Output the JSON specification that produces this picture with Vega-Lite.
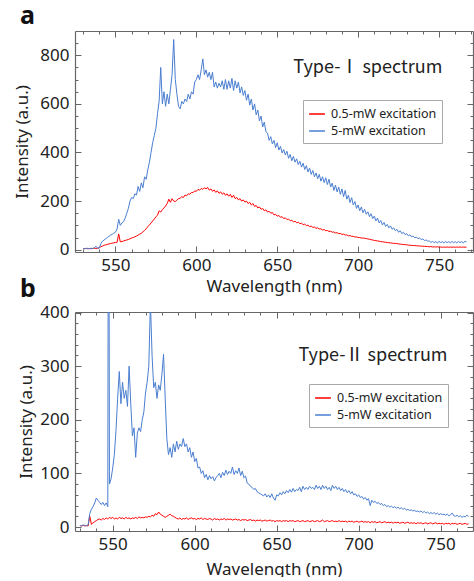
{
"$schema":"https://vega.github.io/schema/vega-lite/v6.json",
"padding":{"left":13,"top":3,"right":0,"bottom":0},
"spacing":-18,
"resolve":{"scale":{"color":"independent"},"legend":{"color":"independent"}},
"config":{"font":"Noto Sans","view":{"stroke":null},"axis":{"grid":false,"domainColor":"#666","domainWidth":1.2,"tickColor":"#666","tickWidth":1,"labelColor":"#222","titleColor":"#222","labelFont":"Noto Sans","titleFont":"Noto Sans","labelFontSize":17,"titleFontSize":17,"titleFontWeight":"normal"}},
"datasets":{
"a":[{"w":530,"lo":5,"hi":5},{"w":531,"lo":4,"hi":4},{"w":532,"lo":5,"hi":6},{"w":533,"lo":4,"hi":5},{"w":534,"lo":5,"hi":4},{"w":535,"lo":4,"hi":6},{"w":536,"lo":5,"hi":5},{"w":537,"lo":6,"hi":8},{"w":538,"lo":5,"hi":14},{"w":539,"lo":6,"hi":6},{"w":540,"lo":8,"hi":7},{"w":541,"lo":12,"hi":25},{"w":542,"lo":15,"hi":35},{"w":543,"lo":18,"hi":40},{"w":544,"lo":20,"hi":45},{"w":545,"lo":22,"hi":50},{"w":546,"lo":24,"hi":55},{"w":547,"lo":25,"hi":60},{"w":548,"lo":27,"hi":63},{"w":549,"lo":28,"hi":68},{"w":550,"lo":30,"hi":72},{"w":551,"lo":30,"hi":85},{"w":552,"lo":65,"hi":125},{"w":553,"lo":32,"hi":100},{"w":554,"lo":34,"hi":110},{"w":555,"lo":36,"hi":115},{"w":556,"lo":38,"hi":130},{"w":557,"lo":40,"hi":150},{"w":558,"lo":42,"hi":170},{"w":559,"lo":45,"hi":200},{"w":560,"lo":48,"hi":215},{"w":561,"lo":50,"hi":210},{"w":562,"lo":53,"hi":230},{"w":563,"lo":56,"hi":225},{"w":564,"lo":60,"hi":260},{"w":565,"lo":64,"hi":240},{"w":566,"lo":68,"hi":275},{"w":567,"lo":73,"hi":255},{"w":568,"lo":80,"hi":300},{"w":569,"lo":86,"hi":290},{"w":570,"lo":95,"hi":330},{"w":571,"lo":102,"hi":360},{"w":572,"lo":110,"hi":400},{"w":573,"lo":118,"hi":440},{"w":574,"lo":126,"hi":470},{"w":575,"lo":135,"hi":500},{"w":576,"lo":142,"hi":560},{"w":577,"lo":160,"hi":610},{"w":578,"lo":155,"hi":750},{"w":579,"lo":165,"hi":600},{"w":580,"lo":172,"hi":650},{"w":581,"lo":180,"hi":590},{"w":582,"lo":190,"hi":640},{"w":583,"lo":208,"hi":600},{"w":584,"lo":195,"hi":660},{"w":585,"lo":210,"hi":720},{"w":586,"lo":200,"hi":865},{"w":587,"lo":198,"hi":700},{"w":588,"lo":205,"hi":640},{"w":589,"lo":210,"hi":590},{"w":590,"lo":212,"hi":580},{"w":591,"lo":218,"hi":610},{"w":592,"lo":215,"hi":600},{"w":593,"lo":225,"hi":620},{"w":594,"lo":222,"hi":610},{"w":595,"lo":230,"hi":640},{"w":596,"lo":228,"hi":620},{"w":597,"lo":236,"hi":650},{"w":598,"lo":235,"hi":640},{"w":599,"lo":242,"hi":690},{"w":600,"lo":240,"hi":700},{"w":601,"lo":248,"hi":720},{"w":602,"lo":245,"hi":700},{"w":603,"lo":252,"hi":740},{"w":604,"lo":248,"hi":785},{"w":605,"lo":255,"hi":720},{"w":606,"lo":250,"hi":740},{"w":607,"lo":256,"hi":710},{"w":608,"lo":245,"hi":730},{"w":609,"lo":250,"hi":700},{"w":610,"lo":240,"hi":730},{"w":611,"lo":246,"hi":670},{"w":612,"lo":236,"hi":690},{"w":613,"lo":242,"hi":665},{"w":614,"lo":232,"hi":685},{"w":615,"lo":238,"hi":670},{"w":616,"lo":228,"hi":695},{"w":617,"lo":234,"hi":660},{"w":618,"lo":224,"hi":700},{"w":619,"lo":230,"hi":660},{"w":620,"lo":220,"hi":695},{"w":621,"lo":228,"hi":665},{"w":622,"lo":215,"hi":705},{"w":623,"lo":224,"hi":655},{"w":624,"lo":210,"hi":695},{"w":625,"lo":215,"hi":665},{"w":626,"lo":205,"hi":690},{"w":627,"lo":210,"hi":645},{"w":628,"lo":200,"hi":670},{"w":629,"lo":205,"hi":635},{"w":630,"lo":196,"hi":655},{"w":631,"lo":200,"hi":615},{"w":632,"lo":190,"hi":640},{"w":633,"lo":195,"hi":595},{"w":634,"lo":184,"hi":620},{"w":635,"lo":190,"hi":575},{"w":636,"lo":178,"hi":600},{"w":637,"lo":182,"hi":555},{"w":638,"lo":172,"hi":575},{"w":639,"lo":176,"hi":530},{"w":640,"lo":166,"hi":550},{"w":641,"lo":170,"hi":505},{"w":642,"lo":160,"hi":525},{"w":643,"lo":164,"hi":485},{"w":644,"lo":155,"hi":480},{"w":645,"lo":158,"hi":450},{"w":646,"lo":150,"hi":465},{"w":647,"lo":153,"hi":435},{"w":648,"lo":143,"hi":450},{"w":649,"lo":146,"hi":420},{"w":650,"lo":138,"hi":440},{"w":651,"lo":141,"hi":410},{"w":652,"lo":133,"hi":425},{"w":653,"lo":136,"hi":398},{"w":654,"lo":128,"hi":412},{"w":655,"lo":131,"hi":390},{"w":656,"lo":124,"hi":405},{"w":657,"lo":126,"hi":376},{"w":658,"lo":119,"hi":392},{"w":659,"lo":121,"hi":366},{"w":660,"lo":115,"hi":384},{"w":661,"lo":117,"hi":360},{"w":662,"lo":111,"hi":374},{"w":663,"lo":113,"hi":350},{"w":664,"lo":107,"hi":364},{"w":665,"lo":109,"hi":340},{"w":666,"lo":103,"hi":356},{"w":667,"lo":105,"hi":330},{"w":668,"lo":99,"hi":346},{"w":669,"lo":101,"hi":320},{"w":670,"lo":95,"hi":336},{"w":671,"lo":97,"hi":310},{"w":672,"lo":92,"hi":326},{"w":673,"lo":93,"hi":300},{"w":674,"lo":88,"hi":316},{"w":675,"lo":90,"hi":292},{"w":676,"lo":85,"hi":310},{"w":677,"lo":86,"hi":282},{"w":678,"lo":81,"hi":300},{"w":679,"lo":83,"hi":276},{"w":680,"lo":78,"hi":296},{"w":681,"lo":79,"hi":268},{"w":682,"lo":75,"hi":290},{"w":683,"lo":76,"hi":258},{"w":684,"lo":72,"hi":274},{"w":685,"lo":73,"hi":244},{"w":686,"lo":69,"hi":266},{"w":687,"lo":70,"hi":238},{"w":688,"lo":66,"hi":258},{"w":689,"lo":67,"hi":228},{"w":690,"lo":63,"hi":250},{"w":691,"lo":64,"hi":218},{"w":692,"lo":60,"hi":244},{"w":693,"lo":61,"hi":208},{"w":694,"lo":57,"hi":224},{"w":695,"lo":58,"hi":194},{"w":696,"lo":55,"hi":214},{"w":697,"lo":55,"hi":184},{"w":698,"lo":52,"hi":198},{"w":699,"lo":53,"hi":170},{"w":700,"lo":50,"hi":184},{"w":701,"lo":50,"hi":160},{"w":702,"lo":48,"hi":176},{"w":703,"lo":48,"hi":152},{"w":704,"lo":47,"hi":166},{"w":705,"lo":46,"hi":146},{"w":706,"lo":44,"hi":156},{"w":707,"lo":43,"hi":136},{"w":708,"lo":41,"hi":148},{"w":709,"lo":40,"hi":128},{"w":710,"lo":38,"hi":138},{"w":711,"lo":37,"hi":118},{"w":712,"lo":36,"hi":130},{"w":713,"lo":35,"hi":110},{"w":714,"lo":33,"hi":120},{"w":715,"lo":33,"hi":102},{"w":716,"lo":31,"hi":112},{"w":717,"lo":31,"hi":96},{"w":718,"lo":29,"hi":104},{"w":719,"lo":29,"hi":90},{"w":720,"lo":28,"hi":98},{"w":721,"lo":27,"hi":84},{"w":722,"lo":26,"hi":90},{"w":723,"lo":26,"hi":78},{"w":724,"lo":25,"hi":84},{"w":725,"lo":24,"hi":72},{"w":726,"lo":23,"hi":78},{"w":727,"lo":22,"hi":66},{"w":728,"lo":21,"hi":72},{"w":729,"lo":21,"hi":62},{"w":730,"lo":20,"hi":66},{"w":731,"lo":19,"hi":57},{"w":732,"lo":18,"hi":61},{"w":733,"lo":18,"hi":53},{"w":734,"lo":17,"hi":56},{"w":735,"lo":17,"hi":49},{"w":736,"lo":16,"hi":52},{"w":737,"lo":16,"hi":45},{"w":738,"lo":15,"hi":48},{"w":739,"lo":15,"hi":42},{"w":740,"lo":14,"hi":44},{"w":741,"lo":14,"hi":38},{"w":742,"lo":13,"hi":40},{"w":743,"lo":13,"hi":35},{"w":744,"lo":12,"hi":36},{"w":745,"lo":13,"hi":30},{"w":746,"lo":11,"hi":34},{"w":747,"lo":12,"hi":29},{"w":748,"lo":11,"hi":33},{"w":749,"lo":12,"hi":28},{"w":750,"lo":10,"hi":34},{"w":751,"lo":11,"hi":29},{"w":752,"lo":10,"hi":33},{"w":753,"lo":11,"hi":28},{"w":754,"lo":10,"hi":34},{"w":755,"lo":11,"hi":29},{"w":756,"lo":10,"hi":33},{"w":757,"lo":11,"hi":28},{"w":758,"lo":10,"hi":34},{"w":759,"lo":11,"hi":29},{"w":760,"lo":10,"hi":33},{"w":761,"lo":11,"hi":28},{"w":762,"lo":10,"hi":34},{"w":763,"lo":11,"hi":29},{"w":764,"lo":10,"hi":33},{"w":765,"lo":11,"hi":28},{"w":766,"lo":10,"hi":34},{"w":767,"lo":11,"hi":32}],
"b":[{"w":530,"lo":3,"hi":3},{"w":531,"lo":2,"hi":2},{"w":532,"lo":3,"hi":4},{"w":533,"lo":2,"hi":3},{"w":534,"lo":3,"hi":2},{"w":535,"lo":2,"hi":4},{"w":536,"lo":20,"hi":25},{"w":537,"lo":5,"hi":33},{"w":538,"lo":8,"hi":38},{"w":539,"lo":10,"hi":45},{"w":540,"lo":12,"hi":54},{"w":541,"lo":14,"hi":50},{"w":542,"lo":15,"hi":46},{"w":543,"lo":13,"hi":42},{"w":544,"lo":16,"hi":46},{"w":545,"lo":14,"hi":40},{"w":546,"lo":17,"hi":45},{"w":547,"lo":15,"hi":38},{"w":547.5,"lo":16,"hi":1000},{"w":548,"lo":18,"hi":80},{"w":549,"lo":16,"hi":90},{"w":550,"lo":18,"hi":110},{"w":551,"lo":15,"hi":135},{"w":552,"lo":17,"hi":180},{"w":553,"lo":15,"hi":240},{"w":554,"lo":18,"hi":290},{"w":555,"lo":16,"hi":230},{"w":556,"lo":17,"hi":270},{"w":557,"lo":15,"hi":240},{"w":558,"lo":18,"hi":255},{"w":559,"lo":16,"hi":225},{"w":560,"lo":17,"hi":300},{"w":561,"lo":15,"hi":230},{"w":562,"lo":17,"hi":170},{"w":563,"lo":16,"hi":185},{"w":564,"lo":18,"hi":130},{"w":565,"lo":16,"hi":175},{"w":566,"lo":19,"hi":185},{"w":567,"lo":17,"hi":178},{"w":568,"lo":18,"hi":200},{"w":569,"lo":17,"hi":215},{"w":570,"lo":19,"hi":250},{"w":571,"lo":18,"hi":270},{"w":572,"lo":20,"hi":300},{"w":573,"lo":19,"hi":420},{"w":574,"lo":22,"hi":320},{"w":575,"lo":20,"hi":260},{"w":576,"lo":25,"hi":270},{"w":577,"lo":23,"hi":240},{"w":578,"lo":28,"hi":265},{"w":579,"lo":24,"hi":255},{"w":580,"lo":22,"hi":285},{"w":581,"lo":20,"hi":322},{"w":582,"lo":18,"hi":240},{"w":583,"lo":20,"hi":165},{"w":584,"lo":22,"hi":135},{"w":585,"lo":24,"hi":148},{"w":586,"lo":21,"hi":130},{"w":587,"lo":20,"hi":155},{"w":588,"lo":18,"hi":140},{"w":589,"lo":16,"hi":160},{"w":590,"lo":15,"hi":145},{"w":591,"lo":17,"hi":155},{"w":592,"lo":14,"hi":150},{"w":593,"lo":16,"hi":165},{"w":594,"lo":15,"hi":150},{"w":595,"lo":17,"hi":155},{"w":596,"lo":14,"hi":140},{"w":597,"lo":16,"hi":148},{"w":598,"lo":17,"hi":130},{"w":599,"lo":15,"hi":140},{"w":600,"lo":16,"hi":122},{"w":601,"lo":14,"hi":128},{"w":602,"lo":16,"hi":110},{"w":603,"lo":15,"hi":112},{"w":604,"lo":17,"hi":100},{"w":605,"lo":14,"hi":105},{"w":606,"lo":16,"hi":92},{"w":607,"lo":15,"hi":98},{"w":608,"lo":14,"hi":88},{"w":609,"lo":16,"hi":96},{"w":610,"lo":15,"hi":90},{"w":611,"lo":13,"hi":94},{"w":612,"lo":16,"hi":86},{"w":613,"lo":14,"hi":92},{"w":614,"lo":15,"hi":96},{"w":615,"lo":13,"hi":100},{"w":616,"lo":15,"hi":92},{"w":617,"lo":14,"hi":102},{"w":618,"lo":16,"hi":96},{"w":619,"lo":13,"hi":106},{"w":620,"lo":15,"hi":98},{"w":621,"lo":14,"hi":104},{"w":622,"lo":15,"hi":100},{"w":623,"lo":13,"hi":112},{"w":624,"lo":14,"hi":98},{"w":625,"lo":15,"hi":105},{"w":626,"lo":13,"hi":100},{"w":627,"lo":14,"hi":110},{"w":628,"lo":12,"hi":96},{"w":629,"lo":14,"hi":104},{"w":630,"lo":13,"hi":92},{"w":631,"lo":14,"hi":95},{"w":632,"lo":12,"hi":82},{"w":633,"lo":13,"hi":80},{"w":634,"lo":14,"hi":76},{"w":635,"lo":12,"hi":74},{"w":636,"lo":13,"hi":70},{"w":637,"lo":11,"hi":72},{"w":638,"lo":13,"hi":66},{"w":639,"lo":12,"hi":64},{"w":640,"lo":13,"hi":62},{"w":641,"lo":11,"hi":60},{"w":642,"lo":12,"hi":58},{"w":643,"lo":13,"hi":62},{"w":644,"lo":11,"hi":56},{"w":645,"lo":12,"hi":60},{"w":646,"lo":13,"hi":55},{"w":647,"lo":11,"hi":62},{"w":648,"lo":12,"hi":54},{"w":649,"lo":10,"hi":50},{"w":650,"lo":12,"hi":60},{"w":651,"lo":11,"hi":58},{"w":652,"lo":12,"hi":64},{"w":653,"lo":10,"hi":60},{"w":654,"lo":12,"hi":66},{"w":655,"lo":11,"hi":62},{"w":656,"lo":12,"hi":68},{"w":657,"lo":10,"hi":64},{"w":658,"lo":12,"hi":70},{"w":659,"lo":11,"hi":65},{"w":660,"lo":12,"hi":72},{"w":661,"lo":10,"hi":66},{"w":662,"lo":11,"hi":70},{"w":663,"lo":12,"hi":68},{"w":664,"lo":10,"hi":74},{"w":665,"lo":11,"hi":66},{"w":666,"lo":12,"hi":76},{"w":667,"lo":10,"hi":70},{"w":668,"lo":11,"hi":74},{"w":669,"lo":12,"hi":70},{"w":670,"lo":10,"hi":76},{"w":671,"lo":11,"hi":72},{"w":672,"lo":12,"hi":74},{"w":673,"lo":10,"hi":70},{"w":674,"lo":11,"hi":78},{"w":675,"lo":12,"hi":72},{"w":676,"lo":10,"hi":76},{"w":677,"lo":11,"hi":70},{"w":678,"lo":13,"hi":78},{"w":679,"lo":10,"hi":72},{"w":680,"lo":11,"hi":76},{"w":681,"lo":12,"hi":70},{"w":682,"lo":10,"hi":74},{"w":683,"lo":11,"hi":68},{"w":684,"lo":12,"hi":78},{"w":685,"lo":10,"hi":72},{"w":686,"lo":11,"hi":76},{"w":687,"lo":10,"hi":70},{"w":688,"lo":12,"hi":74},{"w":689,"lo":10,"hi":68},{"w":690,"lo":11,"hi":72},{"w":691,"lo":10,"hi":66},{"w":692,"lo":11,"hi":70},{"w":693,"lo":9,"hi":64},{"w":694,"lo":11,"hi":68},{"w":695,"lo":10,"hi":62},{"w":696,"lo":11,"hi":66},{"w":697,"lo":9,"hi":60},{"w":698,"lo":10,"hi":62},{"w":699,"lo":11,"hi":57},{"w":700,"lo":9,"hi":60},{"w":701,"lo":10,"hi":55},{"w":702,"lo":11,"hi":57},{"w":703,"lo":9,"hi":52},{"w":704,"lo":10,"hi":55},{"w":705,"lo":9,"hi":50},{"w":706,"lo":10,"hi":53},{"w":707,"lo":8,"hi":40},{"w":708,"lo":10,"hi":50},{"w":709,"lo":9,"hi":46},{"w":710,"lo":10,"hi":48},{"w":711,"lo":8,"hi":44},{"w":712,"lo":9,"hi":46},{"w":713,"lo":10,"hi":42},{"w":714,"lo":8,"hi":44},{"w":715,"lo":9,"hi":40},{"w":716,"lo":10,"hi":42},{"w":717,"lo":8,"hi":38},{"w":718,"lo":9,"hi":40},{"w":719,"lo":8,"hi":37},{"w":720,"lo":9,"hi":39},{"w":721,"lo":7,"hi":36},{"w":722,"lo":9,"hi":38},{"w":723,"lo":8,"hi":35},{"w":724,"lo":9,"hi":37},{"w":725,"lo":7,"hi":34},{"w":726,"lo":8,"hi":36},{"w":727,"lo":9,"hi":33},{"w":728,"lo":7,"hi":35},{"w":729,"lo":8,"hi":32},{"w":730,"lo":9,"hi":33},{"w":731,"lo":7,"hi":31},{"w":732,"lo":8,"hi":32},{"w":733,"lo":7,"hi":30},{"w":734,"lo":8,"hi":31},{"w":735,"lo":6,"hi":29},{"w":736,"lo":8,"hi":30},{"w":737,"lo":7,"hi":28},{"w":738,"lo":8,"hi":30},{"w":739,"lo":6,"hi":27},{"w":740,"lo":7,"hi":29},{"w":741,"lo":8,"hi":26},{"w":742,"lo":6,"hi":28},{"w":743,"lo":7,"hi":25},{"w":744,"lo":8,"hi":27},{"w":745,"lo":6,"hi":25},{"w":746,"lo":7,"hi":27},{"w":747,"lo":8,"hi":24},{"w":748,"lo":6,"hi":26},{"w":749,"lo":7,"hi":23},{"w":750,"lo":6,"hi":25},{"w":751,"lo":7,"hi":23},{"w":752,"lo":5,"hi":24},{"w":753,"lo":7,"hi":22},{"w":754,"lo":6,"hi":24},{"w":755,"lo":7,"hi":21},{"w":756,"lo":5,"hi":23},{"w":757,"lo":7,"hi":26},{"w":758,"lo":6,"hi":21},{"w":759,"lo":7,"hi":20},{"w":760,"lo":5,"hi":22},{"w":761,"lo":6,"hi":19},{"w":762,"lo":7,"hi":21},{"w":763,"lo":5,"hi":18},{"w":764,"lo":6,"hi":20},{"w":765,"lo":7,"hi":19},{"w":766,"lo":5,"hi":22},{"w":767,"lo":6,"hi":20}]
},
"vconcat":[
{
"width":398,"height":221,
"title":{"text":"a","anchor":"start","frame":"group","dx":-55,"offset":2,"fontSize":25,"fontWeight":"bold","font":"Noto Sans","color":"#111"},
"layer":[
{"data":{"name":"a"},"transform":[{"fold":["lo","hi"],"as":["k","v"]}],
"mark":{"type":"line","strokeWidth":1,"clip":true},
"encoding":{
"x":{"field":"w","type":"quantitative","scale":{"domain":[525,771],"nice":false,"zero":false},"axis":{"orient":"bottom","values":[550,600,650,700,750],"tickSize":-6,"labelPadding":11,"title":"Wavelength (nm)","titlePadding":5}},
"y":{"field":"v","type":"quantitative","scale":{"domain":[-9.5,900],"nice":false,"zero":false},"axis":{"orient":"left","values":[0,200,400,600,800],"tickSize":-6,"labelPadding":12,"title":"Intensity (a.u.)","titlePadding":8}},
"color":{"field":"k","type":"nominal","scale":{"domain":["lo","hi"],"range":["#ff0000","#4a7ed0"]},"legend":{"orient":"none","legendX":228,"legendY":69,"title":null,"labelExpr":"datum.value == 'lo' ? '0.5-mW excitation' : '5-mW excitation'","symbolType":"stroke","symbolStrokeWidth":1.5,"symbolSize":250,"labelFontSize":12.5,"labelFont":"Noto Sans","labelColor":"#222","strokeColor":"#aaa","fillColor":"white","padding":5,"rowPadding":1,"labelOffset":5}}
}},
{"data":{"name":"a"},
"mark":{"type":"point","opacity":0},
"encoding":{
"x":{"field":"w","type":"quantitative","axis":{"orient":"bottom","values":[530,540,560,570,580,590,610,620,630,640,660,670,680,690,710,720,730,740,760,770],"tickSize":-3,"labels":false,"domain":false,"title":null}},
"y":{"field":"lo","type":"quantitative","axis":{"orient":"left","values":[50,100,150,250,300,350,450,500,550,650,700,750,850],"tickSize":-3,"labels":false,"domain":false,"title":null}}}},
{"data":{"name":"a"},
"mark":{"type":"point","opacity":0},
"encoding":{
"x":{"field":"w","type":"quantitative","axis":{"orient":"top","values":[550,600,650,700,750],"tickSize":-6,"labels":false,"title":null}},
"y":{"field":"lo","type":"quantitative","axis":{"orient":"right","values":[0,200,400,600,800],"tickSize":-6,"labels":false,"title":null}}}},
{"data":{"name":"a"},
"mark":{"type":"point","opacity":0},
"encoding":{
"x":{"field":"w","type":"quantitative","axis":{"orient":"top","values":[530,540,560,570,580,590,610,620,630,640,660,670,680,690,710,720,730,740,760,770],"tickSize":-3,"labels":false,"domain":false,"title":null}},
"y":{"field":"lo","type":"quantitative","axis":{"orient":"right","values":[50,100,150,250,300,350,450,500,550,650,700,750,850],"tickSize":-3,"labels":false,"domain":false,"title":null}}}},
{"data":{"values":[{"t":"Type-Ⅰ spectrum"}]},
"mark":{"type":"text","font":"Noto Sans CJK SC","fontSize":18,"color":"#222","align":"center","baseline":"middle"},
"encoding":{
"x":{"datum":706,"type":"quantitative","axis":null},
"y":{"datum":748,"type":"quantitative","axis":null},
"text":{"field":"t"}}}
],
"resolve":{"axis":{"x":"independent","y":"independent"}}
},
{
"width":398,"height":219,
"title":{"text":"b","anchor":"start","frame":"group","dx":-55,"offset":2,"fontSize":25,"fontWeight":"bold","font":"Noto Sans","color":"#111"},
"layer":[
{"data":{"name":"b"},"transform":[{"fold":["lo","hi"],"as":["k","v"]}],
"mark":{"type":"line","strokeWidth":1,"clip":true},
"encoding":{
"x":{"field":"w","type":"quantitative","scale":{"domain":[527,769.7],"nice":false,"zero":false},"axis":{"orient":"bottom","values":[550,600,650,700,750],"tickSize":-6,"labelPadding":11,"title":"Wavelength (nm)","titlePadding":9}},
"y":{"field":"v","type":"quantitative","scale":{"domain":[-7.4,401],"nice":false,"zero":false},"axis":{"orient":"left","values":[0,100,200,300,400],"tickSize":-6,"labelPadding":12,"title":"Intensity (a.u.)","titlePadding":4}},
"color":{"field":"k","type":"nominal","scale":{"domain":["lo","hi"],"range":["#ff0000","#4a7ed0"]},"legend":{"orient":"none","legendX":234,"legendY":72,"title":null,"labelExpr":"datum.value == 'lo' ? '0.5-mW excitation' : '5-mW excitation'","symbolType":"stroke","symbolStrokeWidth":1.5,"symbolSize":250,"labelFontSize":12.5,"labelFont":"Noto Sans","labelColor":"#222","strokeColor":"#aaa","fillColor":"white","padding":5,"rowPadding":1,"labelOffset":5}}
}},
{"data":{"name":"b"},
"mark":{"type":"point","opacity":0},
"encoding":{
"x":{"field":"w","type":"quantitative","axis":{"orient":"bottom","values":[530,540,560,570,580,590,610,620,630,640,660,670,680,690,710,720,730,740,760],"tickSize":-3,"labels":false,"domain":false,"title":null}},
"y":{"field":"lo","type":"quantitative","axis":{"orient":"left","values":[20,40,60,80,120,140,160,180,220,240,260,280,320,340,360,380],"tickSize":-3,"labels":false,"domain":false,"title":null}}}},
{"data":{"name":"b"},
"mark":{"type":"point","opacity":0},
"encoding":{
"x":{"field":"w","type":"quantitative","axis":{"orient":"top","values":[550,600,650,700,750],"tickSize":-6,"labels":false,"title":null}},
"y":{"field":"lo","type":"quantitative","axis":{"orient":"right","values":[0,100,200,300,400],"tickSize":-6,"labels":false,"title":null}}}},
{"data":{"name":"b"},
"mark":{"type":"point","opacity":0},
"encoding":{
"x":{"field":"w","type":"quantitative","axis":{"orient":"top","values":[530,540,560,570,580,590,610,620,630,640,660,670,680,690,710,720,730,740,760],"tickSize":-3,"labels":false,"domain":false,"title":null}},
"y":{"field":"lo","type":"quantitative","axis":{"orient":"right","values":[20,40,60,80,120,140,160,180,220,240,260,280,320,340,360,380],"tickSize":-3,"labels":false,"domain":false,"title":null}}}},
{"data":{"values":[{"t":"Type-Ⅱ spectrum"}]},
"mark":{"type":"text","font":"Noto Sans CJK SC","fontSize":18,"color":"#222","align":"center","baseline":"middle"},
"encoding":{
"x":{"datum":708.7,"type":"quantitative","axis":null},
"y":{"datum":318.5,"type":"quantitative","axis":null},
"text":{"field":"t"}}}
],
"resolve":{"axis":{"x":"independent","y":"independent"}}
}
]
}
